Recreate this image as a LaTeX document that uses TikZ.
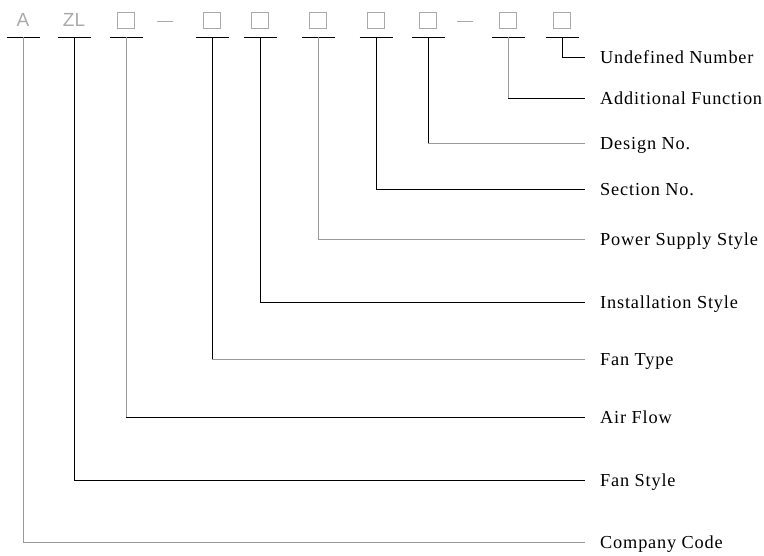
\documentclass[tikz,border=0pt]{standalone}
\usepackage{fontspec}
\setmainfont{Liberation Serif}
\newfontfamily\symfont{Liberation Sans}
\newfontfamily\labfont[LetterSpace=4.5]{Liberation Serif}
\usetikzlibrary{calc}
\definecolor{lgray}{HTML}{9A9A9A}
\definecolor{bgray}{HTML}{AAAAAA}
\begin{document}
\begin{tikzpicture}[x=1pt,y=-1pt,
  sym/.style={inner sep=0pt,text=bgray,font=\symfont\fontsize{19}{19}\selectfont},
  boxsym/.style={draw=bgray,line width=0.8pt,minimum width=17pt,minimum height=16pt,inner sep=0pt},
  lab/.style={anchor=base west,inner sep=0pt,font=\labfont\fontsize{18.3}{19}\selectfont},
  blk/.style={draw=black,line width=1pt},
  gry/.style={draw=lgray,line width=1pt},
  dsh/.style={draw=bgray,line width=0.8pt}]
\useasboundingbox (0,0) rectangle (764,555);
% top symbols
\node[sym] (sA) at (23,20) {A};
\node[sym] (sZL) at (74,20) {ZL};
\node[boxsym] (s1) at (126,20) {};
\coordinate (d1a) at (157,21); \coordinate (d1b) at (173,21);
\draw[dsh] (d1a) -- (d1b);
\node[boxsym] (s2) at (212,20) {};
\node[boxsym] (s3) at (260,20) {};
\node[boxsym] (s4) at (318,20) {};
\node[boxsym] (s5) at (376,20) {};
\node[boxsym] (s6) at (428,20) {};
\coordinate (d2a) at (457,21); \coordinate (d2b) at (473,21);
\draw[dsh] (d2a) -- (d2b);
\node[boxsym] (s7) at (508,20) {};
\node[boxsym] (s8) at (562,20) {};
% bars
\foreach \n/\x in {A/23,ZL/74,1/126,2/212,3/260,4/318,5/376,6/428,7/508,8/562}{
  \coordinate (b\n) at (\x,37);
  \draw[blk] ($(b\n)+(-16.5,0)$) -- ($(b\n)+(16.5,0)$);
}
% labels and line ends
\foreach \n/\y/\t in {8/57/Undefined Number,7/98/Additional Function,6/143/Design No.,5/189/Section No.,4/239/Power Supply Style,3/302/Installation Style,2/359/Fan Type,1/417/Air Flow,ZL/480/Fan Style,A/542/Company Code}{
  \node[lab] (l\n) at (600,\y+6.5) {\t};
  \coordinate (e\n) at (585,\y);
  \coordinate (c\n) at (b\n |- e\n);
}
% connectors (vertical part, horizontal part)
\draw[blk] (b8) -- (c8); \draw[blk] (c8) -- (e8);
\draw[gry] (b7) -- (c7); \draw[blk] (c7) -- (e7);
\draw[blk] (b6) -- (c6); \draw[gry] (c6) -- (e6);
\draw[blk] (b5) -- (c5); \draw[blk] (c5) -- (e5);
\draw[gry] (b4) -- (c4); \draw[gry] (c4) -- (e4);
\draw[blk] (b3) -- (c3); \draw[blk] (c3) -- (e3);
\draw[blk] (b2) -- (c2); \draw[gry] (c2) -- (e2);
\draw[gry] (b1) -- (c1); \draw[blk] (c1) -- (e1);
\draw[blk] (bZL) -- (cZL); \draw[blk] (cZL) -- (eZL);
\draw[gry] (bA) -- (cA); \draw[gry] (cA) -- (eA);
\end{tikzpicture}
\end{document}
